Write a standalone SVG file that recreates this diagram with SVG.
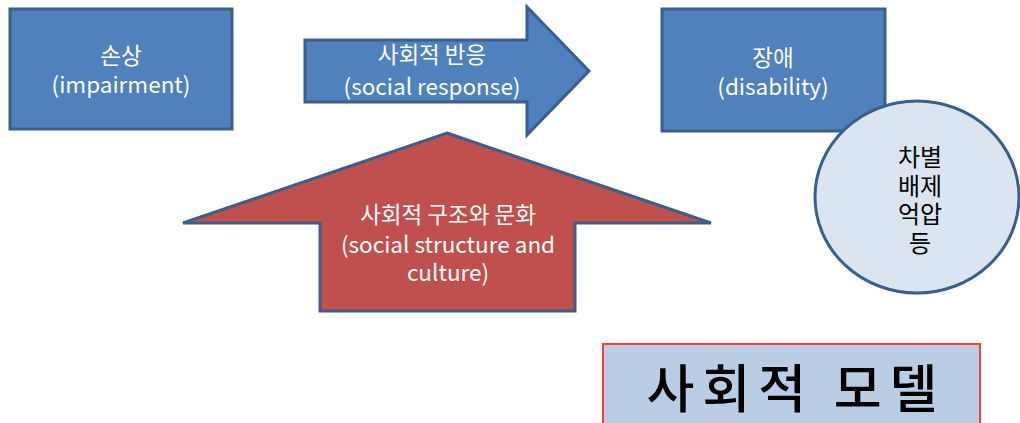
<svg xmlns="http://www.w3.org/2000/svg" width="1020" height="423" viewBox="0 0 1020 423">
  <style>
    .blue { fill: #4F81BD; stroke: #3A5F8B; stroke-width: 3; }
    .red { fill: #C0504D; stroke: #3A5F8B; stroke-width: 3; }
    .bubble { fill: #DBE5F1; stroke: #3A5F8B; stroke-width: 3; }
    .lbl { font-family: "Noto Sans CJK KR", "Noto Sans", sans-serif; font-size: 22.5px; fill: #FFFFFF; text-anchor: middle; }
    .dark { font-family: "Noto Sans CJK KR", "Noto Sans", sans-serif; font-size: 24px; fill: #000000; text-anchor: middle; }
    .title { font-family: "Noto Sans CJK KR", sans-serif; font-size: 52px; font-weight: 500; fill: #000000; text-anchor: middle; letter-spacing: 8px; }
  </style>
  <rect width="1020" height="423" fill="#FFFFFF"/>

  <g id="impairment">
    <rect class="blue" x="10" y="9" width="222" height="120"/>
    <text class="lbl" x="121" y="64">손상</text>
    <text class="lbl" x="121" y="93">(impairment)</text>
  </g>

  <g id="connectors">
    <g id="social-response">
      <polygon class="blue" points="305,40 527,40 527,7 589,71 527,135 527,102 305,102"/>
      <text class="lbl" x="432" y="63">사회적 반응</text>
      <text class="lbl" x="432" y="95">(social response)</text>
    </g>
    <g id="structure-culture">
      <polygon class="red" points="447,133 711,223 575,223 575,311 320,311 320,223 183,223"/>
      <text class="lbl" x="448" y="223">사회적 구조와 문화</text>
      <text class="lbl" x="448" y="253">(social structure and</text>
      <text class="lbl" x="448" y="281">culture)</text>
    </g>
  </g>

  <g id="disability">
    <rect class="blue" x="662" y="9" width="223" height="122"/>
    <text class="lbl" x="773" y="66">장애</text>
    <text class="lbl" x="773" y="95">(disability)</text>
  </g>

  <g id="outcomes">
    <ellipse class="bubble" cx="917" cy="197" rx="102" ry="96"/>
    <text class="dark" x="920" y="166">차별</text>
    <text class="dark" x="920" y="194.5">배제</text>
    <text class="dark" x="920" y="223">억압</text>
    <text class="dark" x="920" y="251.5">등</text>
  </g>

  <g id="model-title">
    <rect x="603" y="344" width="377" height="90" fill="#B9CDE5" stroke="#FF3B3B" stroke-width="2"/>
    <text class="title" x="796" y="408">사회적 모델</text>
  </g>
</svg>
